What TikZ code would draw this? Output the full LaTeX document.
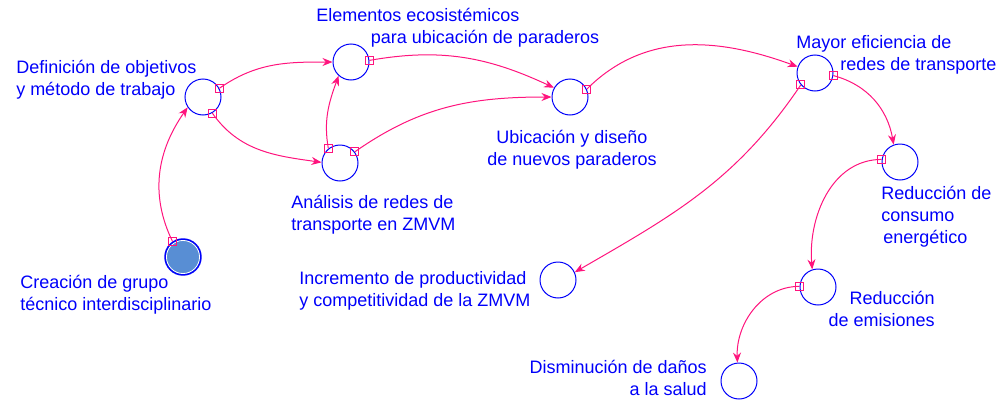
\documentclass[tikz,border=0pt]{standalone}
\usepackage{fontspec}
\setmainfont{Liberation Sans}
\usetikzlibrary{arrows.meta}
\definecolor{varblue}{RGB}{0,0,250}
\definecolor{linkpink}{RGB}{255,20,125}
\definecolor{seedfill}{RGB}{88,142,212}
\tikzset{
  var/.style={circle,draw=varblue,line width=0.75pt,minimum size=27pt,inner sep=0pt},
  lbl/.style={text=varblue,font=\fontsize{13.5}{16.5}\selectfont,inner sep=0pt},
  link/.style={draw=linkpink,line width=0.75pt,-{Stealth[length=7.5pt,width=6pt]}},
  tailbox/.style={rectangle,draw=linkpink,line width=0.6pt,minimum size=6pt,inner sep=0pt},
}
\begin{document}
\begin{tikzpicture}[x=0.75pt,y=0.75pt]
\useasboundingbox (0,0) rectangle (1004,-400);
% variables
\node[var,fill=seedfill,line width=1.1pt,
  path picture={\draw[white,line width=0.6pt] (path picture bounding box.center) circle (12.4pt);}]
  (crea) at (183,-257) {};
\node[var] (obj) at (203,-97) {};
\node[var] (elem) at (351,-62) {};
\node[var] (anal) at (340,-163) {};
\node[var] (ubic) at (570,-97) {};
\node[var] (mayor) at (815,-73) {};
\node[var] (redu) at (900,-162) {};
\node[var] (emis) at (818,-287) {};
\node[var] (incr) at (558,-280) {};
\node[var] (dism) at (739,-381) {};
% labels (base = last line)
\node[lbl,anchor=base west,align=left] (obj-l) at (16,-95) {Definición de objetivos\\y método de trabajo};
\node[lbl,anchor=base west,align=left] (elem-l) at (316,-43) {Elementos ecosistémicos\\\hspace*{41pt}para ubicación de paraderos};
\node[lbl,anchor=base,align=center] (ubic-l) at (572,-165) {Ubicación y diseño\\de nuevos paraderos};
\node[lbl,anchor=base west,align=left] (anal-l) at (291,-230) {Análisis de redes de\\transporte en ZMVM};
\node[lbl,anchor=base west,align=left] (crea-l) at (20,-310) {Creación de grupo\\técnico interdisciplinario};
\node[lbl,anchor=base west,align=left] (mayor-l) at (796,-70) {Mayor eficiencia de\\\hspace*{33pt}redes de transporte};
\node[lbl,anchor=base west,align=left] (redu-l) at (881,-243) {Reducción de\\consumo\\\hspace*{1.5pt}energético};
\node[lbl,anchor=base west,align=left] (incr-l) at (299,-306) {Incremento de productividad\\y competitividad de la ZMVM};
\node[lbl,anchor=base east,align=right] (emis-l) at (935,-326) {Reducción\\de emisiones};
\node[lbl,anchor=base east,align=right] (dism-l) at (707,-395) {Disminución de daños\\a la salud};
% links
\draw[link] (crea.124) to[out=116,in=235] node[tailbox,pos=0]{} (obj.214);
\draw[link] (obj.28) to[out=35,in=180] node[tailbox,pos=0]{} (elem.180);
\draw[link] (obj.-60) to[out=-55,in=172] node[tailbox,pos=0]{} (anal.178);
\draw[link] (anal.129) to[out=100,in=250] node[tailbox,pos=0]{} (elem.228);
\draw[link] (anal.37) to[out=35,in=180] node[tailbox,pos=0]{} (ubic.180);
\draw[link] (elem.5) to[out=10,in=155] node[tailbox,pos=0]{} (ubic.150);
\draw[link] (ubic.25) to[out=45,in=160] node[tailbox,pos=0]{} (mayor.160);
\draw[link] (mayor.220) to[out=236,in=30] node[tailbox,pos=0]{} (incr.25);
\draw[link] (mayor.-8) to[out=-15,in=100] node[tailbox,pos=0]{} (redu.110);
\draw[link] (redu.172) to[out=180,in=95] node[tailbox,pos=0]{} (emis.108);
\draw[link] (emis.178) to[out=180,in=92] node[tailbox,pos=0]{} (dism.95);
\end{tikzpicture}
\end{document}
